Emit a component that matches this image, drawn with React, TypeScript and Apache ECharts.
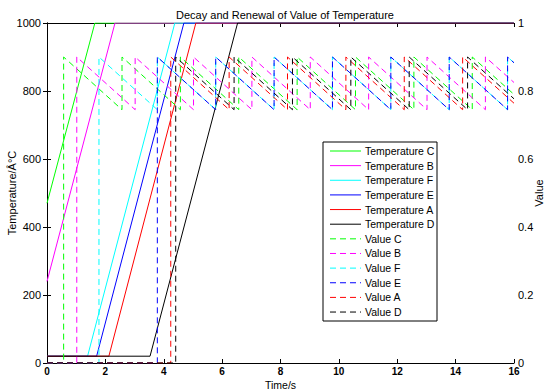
import React, { useEffect, useRef } from "react";
import * as echarts from "echarts";

const FONT = "Liberation Sans, Arial, Helvetica, sans-serif";

const xTicks = [0, 2, 4, 6, 8, 10, 12, 14, 16];
const tempTicks = [0, 200, 400, 600, 800, 1000];
const valueTicks = [0, 0.2, 0.4, 0.6, 0.8, 1];

const seriesNames = ["C", "B", "F", "E", "A", "D"];
const colors = ["#00ff00", "#ff00ff", "#00ffff", "#0000ff", "#ff0000", "#000000"];

// Temperature [time, °C]
const tempC = [[0, 470], [1.64, 1000], [16, 1000]];
const tempB = [[0, 240], [2.33, 1000], [16, 1000]];
const tempF = [[0, 20], [1.39, 20], [4.38, 1000], [16, 1000]];
const tempE = [[0, 20], [1.7, 20], [4.69, 1000], [16, 1000]];
const tempA = [[0, 20], [2.12, 20], [5.1, 1000], [16, 1000]];
const tempD = [[0, 20], [3.53, 20], [6.53, 1000], [16, 1000]];

// Value [time, value]
const valC = [
  [0, 0], [0.57, 0], [0.57, 0.9], [2.57, 0.745], [2.57, 0.9], [4.57, 0.745], [4.57, 0.9],
  [6.57, 0.745], [6.57, 0.9], [8.57, 0.745], [8.57, 0.9], [10.57, 0.745], [10.57, 0.9],
  [12.57, 0.745], [12.57, 0.9], [14.57, 0.745], [14.57, 0.9], [16, 0.79],
];
const valB = [
  [0, 0], [1.02, 0], [1.02, 0.9], [3.02, 0.745], [3.02, 0.9], [5.02, 0.745], [5.02, 0.9],
  [7.02, 0.745], [7.02, 0.9], [9.02, 0.745], [9.02, 0.9], [11.02, 0.745], [11.02, 0.9],
  [13.02, 0.745], [13.02, 0.9], [15.02, 0.745], [15.02, 0.9], [16, 0.825],
];
const valF = [
  [0, 0], [1.78, 0], [1.78, 0.9], [3.78, 0.745], [3.78, 0.9], [5.78, 0.745], [5.78, 0.9],
  [7.78, 0.745], [7.78, 0.9], [9.78, 0.745], [9.78, 0.9], [11.78, 0.745], [11.78, 0.9],
  [13.78, 0.745], [13.78, 0.9], [15.78, 0.745], [15.78, 0.9], [16, 0.883],
];
const valE = [
  [0, 0], [3.78, 0], [3.78, 0.9], [5.78, 0.745], [5.78, 0.9],
  [7.78, 0.745], [7.78, 0.9], [9.78, 0.745], [9.78, 0.9], [11.78, 0.745], [11.78, 0.9],
  [13.78, 0.745], [13.78, 0.9], [15.78, 0.745], [15.78, 0.9], [16, 0.883],
];
const valA = [
  [0, 0], [4.24, 0], [4.24, 0.9], [6.24, 0.745], [6.24, 0.9], [8.24, 0.745], [8.24, 0.9],
  [10.24, 0.745], [10.24, 0.9], [12.24, 0.745], [12.24, 0.9], [14.24, 0.745], [14.24, 0.9],
  [16, 0.764],
];
const valD = [
  [0, 0], [4.41, 0], [4.41, 0.9], [6.41, 0.745], [6.41, 0.9], [8.41, 0.745], [8.41, 0.9],
  [10.41, 0.745], [10.41, 0.9], [12.41, 0.745], [12.41, 0.9], [14.41, 0.745], [14.41, 0.9],
  [16, 0.777],
];

const temps = [tempC, tempB, tempF, tempE, tempA, tempD];
const vals = [valC, valB, valF, valE, valA, valD];

export default function App() {
  const ref = useRef<HTMLDivElement>(null);
  useEffect(() => {
    if (!ref.current) return;
    const chart = echarts.init(ref.current, null, { renderer: "svg" });

    const series: any[] = [];
    temps.forEach((d, i) => {
      series.push({
        name: "Temperature " + seriesNames[i],
        type: "line",
        xAxisIndex: 0,
        yAxisIndex: 0,
        data: d,
        symbol: "none",
        lineStyle: { color: colors[i], width: 1 },
        itemStyle: { color: colors[i] },
      });
    });
    vals.forEach((d, i) => {
      series.push({
        name: "Value " + seriesNames[i],
        type: "line",
        xAxisIndex: 0,
        yAxisIndex: 1,
        data: d,
        symbol: "none",
        lineStyle: { color: colors[i], width: 1, type: [6, 4] },
        itemStyle: { color: colors[i] },
      });
    });

    // Legend drawn as graphic
    const lx = 323, ly = 142, lw = 114, lh = 179;
    const legendChildren: any[] = [
      {
        type: "rect",
        shape: { x: lx, y: ly, width: lw, height: lh },
        style: { fill: "#fff", stroke: "#000", lineWidth: 1 },
      },
    ];
    const names = [
      ...seriesNames.map((n) => "Temperature " + n),
      ...seriesNames.map((n) => "Value " + n),
    ];
    names.forEach((n, k) => {
      const i = k % 6;
      const dashed = k >= 6;
      const cy = 151 + k * 14.64;
      legendChildren.push({
        type: "line",
        shape: { x1: 330, y1: cy, x2: 361, y2: cy },
        style: {
          stroke: colors[i],
          lineWidth: 1,
          lineDash: dashed ? [6, 4] : null,
        },
      });
      legendChildren.push({
        type: "text",
        x: 365,
        y: cy,
        style: {
          text: n,
          font: `10.5px ${FONT}`,
          fill: "#000",
          verticalAlign: "middle",
        },
      });
    });

    const axisLabelStyle = { color: "#000", fontFamily: FONT, fontSize: 11 };

    chart.setOption({
      animation: false,
      backgroundColor: "#fff",
      title: {
        text: "Decay and Renewal of Value of Temperature",
        left: 280,
        top: 4,
        textAlign: "center",
        textStyle: { fontFamily: FONT, fontSize: 11, fontWeight: "normal", color: "#000" },
      },
      grid: { left: 47, right: 31, top: 23, bottom: 27, containLabel: false, outerBoundsMode: "none" },
      xAxis: [
        {
          type: "value",
          min: 0,
          max: 16,
          interval: 2,
          position: "bottom",
          name: "Time/s",
          nameLocation: "middle",
          nameGap: 16,
          nameMoveOverlap: false,
          nameTextStyle: { color: "#000", fontFamily: FONT, fontSize: 10.5 },
          axisLine: { lineStyle: { color: "#000", width: 1 } },
          axisTick: { inside: true, length: 4, lineStyle: { color: "#000" } },
          axisLabel: { ...axisLabelStyle, fontSize: 10, fontWeight: "bold", margin: 3 },
          splitLine: { show: false },
        },
        {
          type: "value",
          min: 0,
          max: 16,
          interval: 2,
          position: "top",
          axisLine: { onZero: false, lineStyle: { color: "#000", width: 1 } },
          axisTick: { inside: true, length: 4, lineStyle: { color: "#000" } },
          axisLabel: { show: false },
          splitLine: { show: false },
        },
      ],
      yAxis: [
        {
          type: "value",
          min: 0,
          max: 1000,
          interval: 200,
          position: "left",
          name: "Temperature/Â°C",
          nameLocation: "middle",
          nameRotate: 90,
          nameGap: 30,
          nameMoveOverlap: false,
          nameTextStyle: { color: "#000", fontFamily: FONT, fontSize: 11 },
          axisLine: { show: true, lineStyle: { color: "#000", width: 1 } },
          axisTick: { show: true, inside: true, length: 4, lineStyle: { color: "#000" } },
          axisLabel: { ...axisLabelStyle, margin: 6, formatter: (v: number) => String(v) },
          splitLine: { show: false },
        },
        {
          type: "value",
          min: 0,
          max: 1,
          interval: 0.2,
          position: "right",
          name: "Value",
          nameLocation: "middle",
          nameRotate: 90,
          nameGap: 19,
          nameMoveOverlap: false,
          nameTextStyle: { color: "#000", fontFamily: FONT, fontSize: 11 },
          axisLine: { show: true, lineStyle: { color: "#000", width: 1 } },
          axisTick: { show: true, inside: true, length: 4, lineStyle: { color: "#000" } },
          axisLabel: { ...axisLabelStyle, margin: 4, formatter: (v: number) => String(v) },
          splitLine: { show: false },
        },
      ],
      series,
      graphic: legendChildren,
    });
    return () => chart.dispose();
  }, []);
  return <div ref={ref} style={{ width: 545, height: 390, position: "absolute", left: 0, top: 0 }} />;
}
